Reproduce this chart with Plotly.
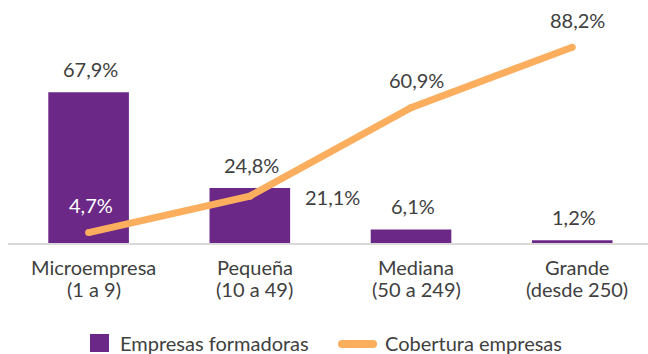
import plotly.graph_objects as go

# Company size categories (name, employee range)
categories = ["Microempresa\n(1 a 9)", "Pequeña\n(10 a 49)", "Mediana\n(50 a 249)", "Grande\n(desde 250)"]
empresas_formadoras = [67.9, 24.8, 6.1, 1.2]
cobertura_empresas = [4.7, 21.1, 60.9, 88.2]

PURPLE = "#6B2886"
ORANGE = "#FBAE5E"
TEXT = "#404040"
FONT = "Lato"
FS = 20

W, H = 648, 354
L, R, T, B = 8, 0, 10, 111


def fmt(v):
    return f"{v:.1f}".replace(".", ",") + "%"


fig = go.Figure()

fig.add_trace(go.Bar(
    x=categories, y=empresas_formadoras, name="Empresas formadoras",
    marker=dict(color=PURPLE, line=dict(width=0)), width=0.5,
    showlegend=False,
))
fig.add_trace(go.Scatter(
    x=categories, y=cobertura_empresas, name="Cobertura empresas",
    mode="lines+markers", line=dict(color=ORANGE, width=7),
    marker=dict(color=ORANGE, size=7), showlegend=False,
))

annotations = []
# value labels above each bar
for c, v in zip(categories, empresas_formadoras):
    annotations.append(dict(x=c, y=v, text=fmt(v), showarrow=False, yshift=23, xshift=2,
                            font=dict(family=FONT, size=FS, color=TEXT)))
# value labels for the coverage line
line_offsets = [(2, 28, "white"), (83, -1, TEXT), (5, 28, TEXT), (5, 27, TEXT)]
for c, v, (dx, dy, col) in zip(categories, cobertura_empresas, line_offsets):
    annotations.append(dict(x=c, y=v, text=fmt(v), showarrow=False, xshift=dx, yshift=dy,
                            font=dict(family=FONT, size=FS, color=col)))
# two-line category labels under the axis
for c in categories:
    first, second = c.split("\n")
    annotations.append(dict(x=c, y=0, text=first, showarrow=False, yshift=-24, xshift=5,
                            font=dict(family=FONT, size=FS, color=TEXT)))
    annotations.append(dict(x=c, y=0, text=second, showarrow=False, yshift=-46, xshift=5,
                            font=dict(family=FONT, size=FS, color=TEXT)))

# custom legend, positioned in pixels
pw, ph = W - L - R, H - T - B


def px(x):
    return (x - L) / pw


def py(y):
    return (H - B - y) / ph


shapes = [
    dict(type="rect", xref="paper", yref="paper", x0=px(90), x1=px(109), y0=py(352), y1=py(334),
         fillcolor=PURPLE, line=dict(width=0)),
    dict(type="line", xref="paper", yref="paper", x0=px(342), x1=px(373), y0=py(344), y1=py(344),
         line=dict(color=ORANGE, width=8)),
    dict(type="circle", xref="paper", yref="paper", x0=px(338), x1=px(346), y0=py(348), y1=py(340),
         fillcolor=ORANGE, line=dict(width=0)),
    dict(type="circle", xref="paper", yref="paper", x0=px(369), x1=px(377), y0=py(348), y1=py(340),
         fillcolor=ORANGE, line=dict(width=0)),
]
annotations += [
    dict(xref="paper", yref="paper", x=px(118), y=py(343), text="Empresas formadoras", showarrow=False,
         xanchor="left", yanchor="middle", font=dict(family=FONT, size=FS, color=TEXT)),
    dict(xref="paper", yref="paper", x=px(383), y=py(343), text="Cobertura empresas", showarrow=False,
         xanchor="left", yanchor="middle", font=dict(family=FONT, size=FS, color=TEXT)),
]

fig.update_layout(
    width=W, height=H, margin=dict(l=L, r=R, t=T, b=B),
    paper_bgcolor="white", plot_bgcolor="white",
    font=dict(family=FONT, size=FS, color=TEXT),
    annotations=annotations, shapes=shapes,
    xaxis=dict(range=[-0.5, 3.47], showline=True, linecolor="#D9D9D9", linewidth=1.5,
               showgrid=False, ticks="", showticklabels=False),
    yaxis=dict(range=[0, 233 / 2.22], visible=False, showgrid=False, zeroline=False),
    showlegend=False,
)

fig.write_html("out.html")
